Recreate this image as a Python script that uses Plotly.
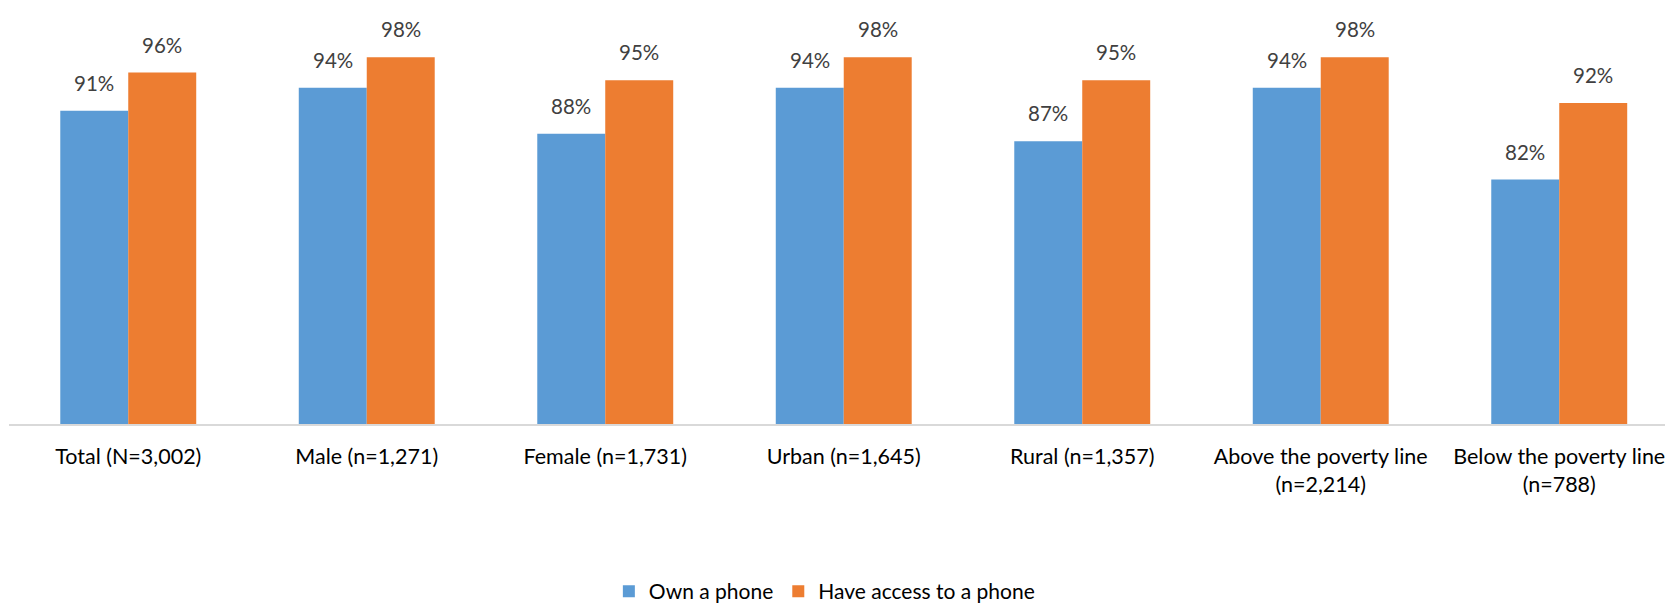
import plotly.graph_objects as go

categories = ["Total (N=3,002)", "Male (n=1,271)", "Female (n=1,731)", "Urban (n=1,645)",
              "Rural (n=1,357)", "Above the poverty line<br>(n=2,214)", "Below the poverty line<br>(n=788)"]
own_phone = [91, 94, 88, 94, 87, 94, 82]
access_phone = [96, 98, 95, 98, 95, 98, 92]
series_names = ["Own a phone", "Have access to a phone"]

BLUE = "#5B9BD5"
ORANGE = "#ED7D31"
FONT = "Lato"

fig = go.Figure()
fig.add_trace(go.Bar(x=categories, y=own_phone, name=series_names[0], marker_color=BLUE,
                     marker_line_width=0))
fig.add_trace(go.Bar(x=categories, y=access_phone, name=series_names[1], marker_color=ORANGE,
                     marker_line_width=0))

for vals, shift in ((own_phone, -34), (access_phone, 34)):
    for c, v in zip(categories, vals):
        fig.add_annotation(x=c, y=v, text=f"{v}%", showarrow=False, xshift=shift,
                           yanchor="bottom", yshift=14,
                           font=dict(family=FONT, size=20.5, color="#404040"))

fig.update_layout(
    width=1665, height=604,
    margin=dict(l=1, r=0, t=34, b=170),
    plot_bgcolor="white", paper_bgcolor="white",
    barmode="group", bargap=0.43, bargroupgap=0,
    font=dict(family=FONT, size=21.5, color="#000000"),
    showlegend=True,
    legend=dict(orientation="h", x=0.49, xanchor="center", y=-0.44, yanchor="middle",
                font=dict(family=FONT, size=21, color="#000000"), itemwidth=30,
                traceorder="normal"),
    xaxis=dict(range=[-0.5, 6.477], showline=True, linecolor="#D9D9D9", linewidth=1.5,
               ticks="", showgrid=False, tickfont=dict(family=FONT, size=21.5, color="#000000"),
               ticklabelstandoff=12),
    yaxis=dict(range=[50, 100], visible=False, showgrid=False, zeroline=False),
)

fig.write_html("out.html")
